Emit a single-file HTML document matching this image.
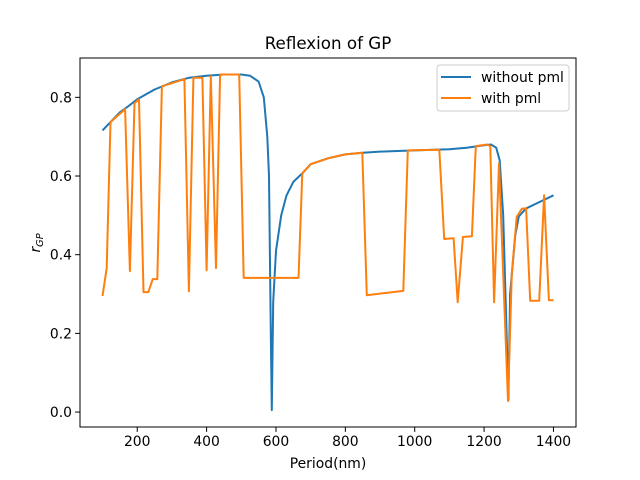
<!DOCTYPE html>
<html><head><meta charset="utf-8"><style>body{margin:0;background:#fff}svg{display:block;font-family:"DejaVu Sans","Liberation Sans",sans-serif}</style></head>
<body>
<svg id="chart" width="640" height="480" xmlns="http://www.w3.org/2000/svg">
<rect width="640" height="480" fill="#fff"/>
<text x="328" y="49" font-size="16.7" text-anchor="middle">Reflexion of GP</text>
<g id="plot"></g>
<text x="328" y="468" font-size="13.9" text-anchor="middle">Period(nm)</text>
<text transform="translate(40,243) rotate(-90)" font-size="13.9" text-anchor="middle"><tspan font-style="italic">r</tspan><tspan font-size="9.7" font-style="italic" dy="3">GP</tspan></text>
<g>
<rect x="437" y="65" width="132" height="46" fill="#fff" stroke="#ccc" rx="3"/>
<line x1="441" y1="77" x2="471" y2="77" stroke="#1f77b4" stroke-width="2"/>
<text x="481" y="82" font-size="13.9">without pml</text>
<line x1="441" y1="98" x2="471" y2="98" stroke="#ff7f0e" stroke-width="2"/>
<text x="481" y="103" font-size="13.9">with pml</text>
</g>
</svg>
<script>
const blueX=[100,123,150,175,200,250,300,350,400,450,500,525,550,565,575,580,585,588,592,600,615,630,650,676,700,750,800,850,900,1000,1100,1150,1200,1220,1235,1245,1255,1265,1270,1275,1290,1300,1320,1350,1400];
const blueY=[0.716,0.737,0.762,0.778,0.795,0.82,0.838,0.85,0.855,0.858,0.858,0.855,0.84,0.80,0.70,0.60,0.2,0.005,0.28,0.41,0.50,0.55,0.585,0.607,0.63,0.645,0.655,0.659,0.662,0.665,0.668,0.672,0.678,0.68,0.672,0.64,0.5,0.2,0.03,0.3,0.45,0.497,0.517,0.53,0.551];
const orangeX=[100,112,123,165,179,192,205,218,232,245,258,271,336,349,362,388,400,412,427,439,494,507,665,676,700,750,800,849,862,967,980,1071,1085,1112,1124,1139,1165,1176,1208,1218,1229,1243,1269,1280,1294,1309,1321,1333,1359,1373,1387,1400];
const orangeY=[0.295,0.366,0.737,0.77,0.358,0.785,0.795,0.305,0.305,0.338,0.338,0.828,0.846,0.307,0.85,0.85,0.36,0.854,0.366,0.858,0.858,0.341,0.341,0.607,0.63,0.645,0.655,0.659,0.297,0.308,0.665,0.667,0.44,0.442,0.279,0.445,0.447,0.676,0.68,0.676,0.279,0.632,0.028,0.352,0.496,0.517,0.518,0.283,0.283,0.551,0.284,0.284];
const xTicks=[200,400,600,800,1000,1200,1400];
const yTicks=[0.0,0.2,0.4,0.6,0.8];
const L=80,R=576,T=58,B=427,x0=35,x1=1465,y0=-0.038,y1=0.9;
const sx=v=>L+(v-x0)/(x1-x0)*(R-L);
const sy=v=>B-(v-y0)/(y1-y0)*(B-T);
const NS="http://www.w3.org/2000/svg",g=document.getElementById('plot');
function mk(t,a){const e=document.createElementNS(NS,t);for(const k in a)e.setAttribute(k,a[k]);g.appendChild(e);return e;}
function line(xs,ys,c,n){const e=mk('polyline',{points:xs.map((x,i)=>sx(x).toFixed(1)+','+sy(ys[i]).toFixed(1)).join(' '),fill:'none',stroke:c,'stroke-width':2,'stroke-linejoin':'round'});

}
line(blueX,blueY,'#1f77b4','series-without-pml');
line(orangeX,orangeY,'#ff7f0e','series-with-pml');
const fr=mk('rect',{x:L,y:T,width:R-L,height:B-T,fill:'none',stroke:'#000','stroke-width':1});


xTicks.forEach(v=>{const x=sx(v);mk('line',{x1:x,x2:x,y1:B,y2:B+4.9,stroke:'#000'});
const t=mk('text',{x:x,y:B+19,'font-size':13.9,'text-anchor':'middle'});t.textContent=v;

});
yTicks.forEach(v=>{const y=sy(v);mk('line',{x1:L-4.9,x2:L,y1:y,y2:y,stroke:'#000'});
const t=mk('text',{x:L-8,y:y+5,'font-size':13.9,'text-anchor':'end'});t.textContent=v.toFixed(1);

});
</script>
</body></html>
